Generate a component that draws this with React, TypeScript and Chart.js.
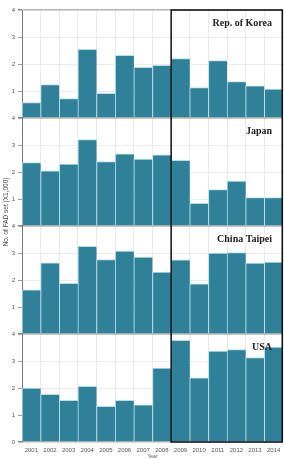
import { useEffect, useRef } from 'react';
import { Chart, registerables } from 'chart.js';

Chart.register(...registerables);

const years = ['2001', '2002', '2003', '2004', '2005', '2006', '2007', '2008', '2009', '2010', '2011', '2012', '2013', '2014'];
const korea = [0.57, 1.24, 0.72, 2.54, 0.91, 2.32, 1.88, 1.95, 2.2, 1.13, 2.13, 1.35, 1.19, 1.07];
const japan = [2.35, 2.04, 2.29, 3.2, 2.39, 2.67, 2.48, 2.64, 2.43, 0.84, 1.35, 1.66, 1.05, 1.05];
const chinaTaipei = [1.64, 2.64, 1.88, 3.25, 2.76, 3.07, 2.85, 2.29, 2.75, 1.86, 3.0, 3.02, 2.63, 2.66];
const usa = [2.0, 1.77, 1.54, 2.06, 1.32, 1.54, 1.38, 2.74, 3.77, 2.38, 3.37, 3.42, 3.13, 3.52];
const panelNames = ['Rep. of Korea', 'Japan', 'China Taipei', 'USA'];
const yTickValues = [0, 1, 2, 3, 4];
const yTitle = 'No. of FAD set (X1,000)';
const xTitle = 'Year';
const boxStartYear = '2009';

const SANS = '"Liberation Sans", Arial, sans-serif';

export default function App() {
  const ref = useRef<HTMLCanvasElement>(null);

  useEffect(() => {
    const canvas = ref.current;
    if (!canvas) return;
    const series = [korea, japan, chinaTaipei, usa];
    const axisIds = ['y1', 'y2', 'y3', 'y4'];

    const scales: any = {
      x: {
        type: 'category',
        offset: true,
        grid: { color: '#e4e4e4', lineWidth: 0.8, offset: true, tickLength: 2, tickColor: 'rgba(0,0,0,0)' },
        border: { display: false },
        ticks: { font: { family: SANS, size: 6 }, color: '#555', padding: 3, maxRotation: 0, autoSkip: false },
        title: { display: true, text: xTitle, font: { family: SANS, size: 5 }, color: '#555', padding: { top: 0, bottom: 0 } },
        afterFit: (s: any) => { s.height = 18; },
      },
    };

    // stacked axes are laid out bottom-up in insertion order, so add the bottom panel first
    for (let i = axisIds.length - 1; i >= 0; i--) {
      const isBottom = i === axisIds.length - 1;
      scales[axisIds[i]] = {
        type: 'linear',
        position: 'left',
        stack: 'panels',
        stackWeight: 1,
        min: 0,
        max: 4,
        afterBuildTicks: (s: any) => { s.ticks = yTickValues.map((v) => ({ value: v })); },
        afterFit: (s: any) => { s.width = 22; },
        ticks: {
          font: { family: SANS, size: 6 },
          color: '#555',
          padding: 3,
          callback: (v: any) => (Number(v) === 0 && !isBottom ? '' : String(v)),
        },
        grid: {
          color: (ctx: any) => {
            const v = ctx.tick ? ctx.tick.value : 1;
            return v === 0 || v === 4 ? '#b4b4b4' : '#e6e6e6';
          },
          lineWidth: (ctx: any) => {
            const v = ctx.tick ? ctx.tick.value : 1;
            return v === 0 || v === 4 ? 1.5 : 0.8;
          },
          tickLength: 4,
          tickColor: '#888',
        },
        border: { display: true, color: '#777', width: 1 },
      };
    }

    const overlay = {
      id: 'overlay',
      afterDatasetsDraw(chart: any) {
        const { ctx, chartArea } = chart;
        const xs = chart.scales.x;
        const i = years.indexOf(boxStartYear);
        const left = (xs.getPixelForValue(i - 1) + xs.getPixelForValue(i)) / 2;
        ctx.save();
        ctx.strokeStyle = '#111';
        ctx.lineWidth = 1.5;
        ctx.strokeRect(left, chartArea.top, chartArea.right - left - 0.75, chartArea.bottom - chartArea.top);
        ctx.font = 'bold 10px "Liberation Serif", "DejaVu Serif", serif';
        ctx.textAlign = 'right';
        ctx.textBaseline = 'middle';
        ctx.fillStyle = '#222';
        axisIds.forEach((id, k) => {
          const s = chart.scales[id];
          ctx.fillText(panelNames[k], chartArea.right - 11, s.top + 13);
        });
        ctx.font = '6.5px ' + SANS;
        ctx.fillStyle = '#444';
        ctx.textAlign = 'center';
        ctx.translate(6.5, chartArea.top + (chartArea.bottom - chartArea.top) * 0.4676);
        ctx.rotate(-Math.PI / 2);
        ctx.fillText(yTitle, 0, 0);
        ctx.restore();
      },
    };

    const chart = new Chart(canvas, {
      type: 'bar',
      data: {
        labels: years,
        datasets: series.map((d, k) => ({
          label: panelNames[k],
          data: d,
          yAxisID: axisIds[k],
          grouped: false,
          backgroundColor: '#2e8199',
          borderColor: '#b8dfe8',
          borderWidth: { top: 1, left: 1, right: 0, bottom: 0 },
          borderSkipped: false,
          barPercentage: 1,
          categoryPercentage: 1,
        })),
      },
      options: {
        responsive: false,
        animation: false,
        layout: { padding: { top: 10, right: 1, left: 0, bottom: 0 } },
        plugins: { legend: { display: false }, tooltip: { enabled: false } },
        scales,
      },
      plugins: [overlay],
    });
    return () => chart.destroy();
  }, []);

  return (
    <div style={{ position: 'absolute', left: 0, top: 0, width: 284, height: 460, background: '#fff' }}>
      <canvas ref={ref} width={284} height={460} style={{ width: 284, height: 460, display: 'block' }} />
    </div>
  );
}
